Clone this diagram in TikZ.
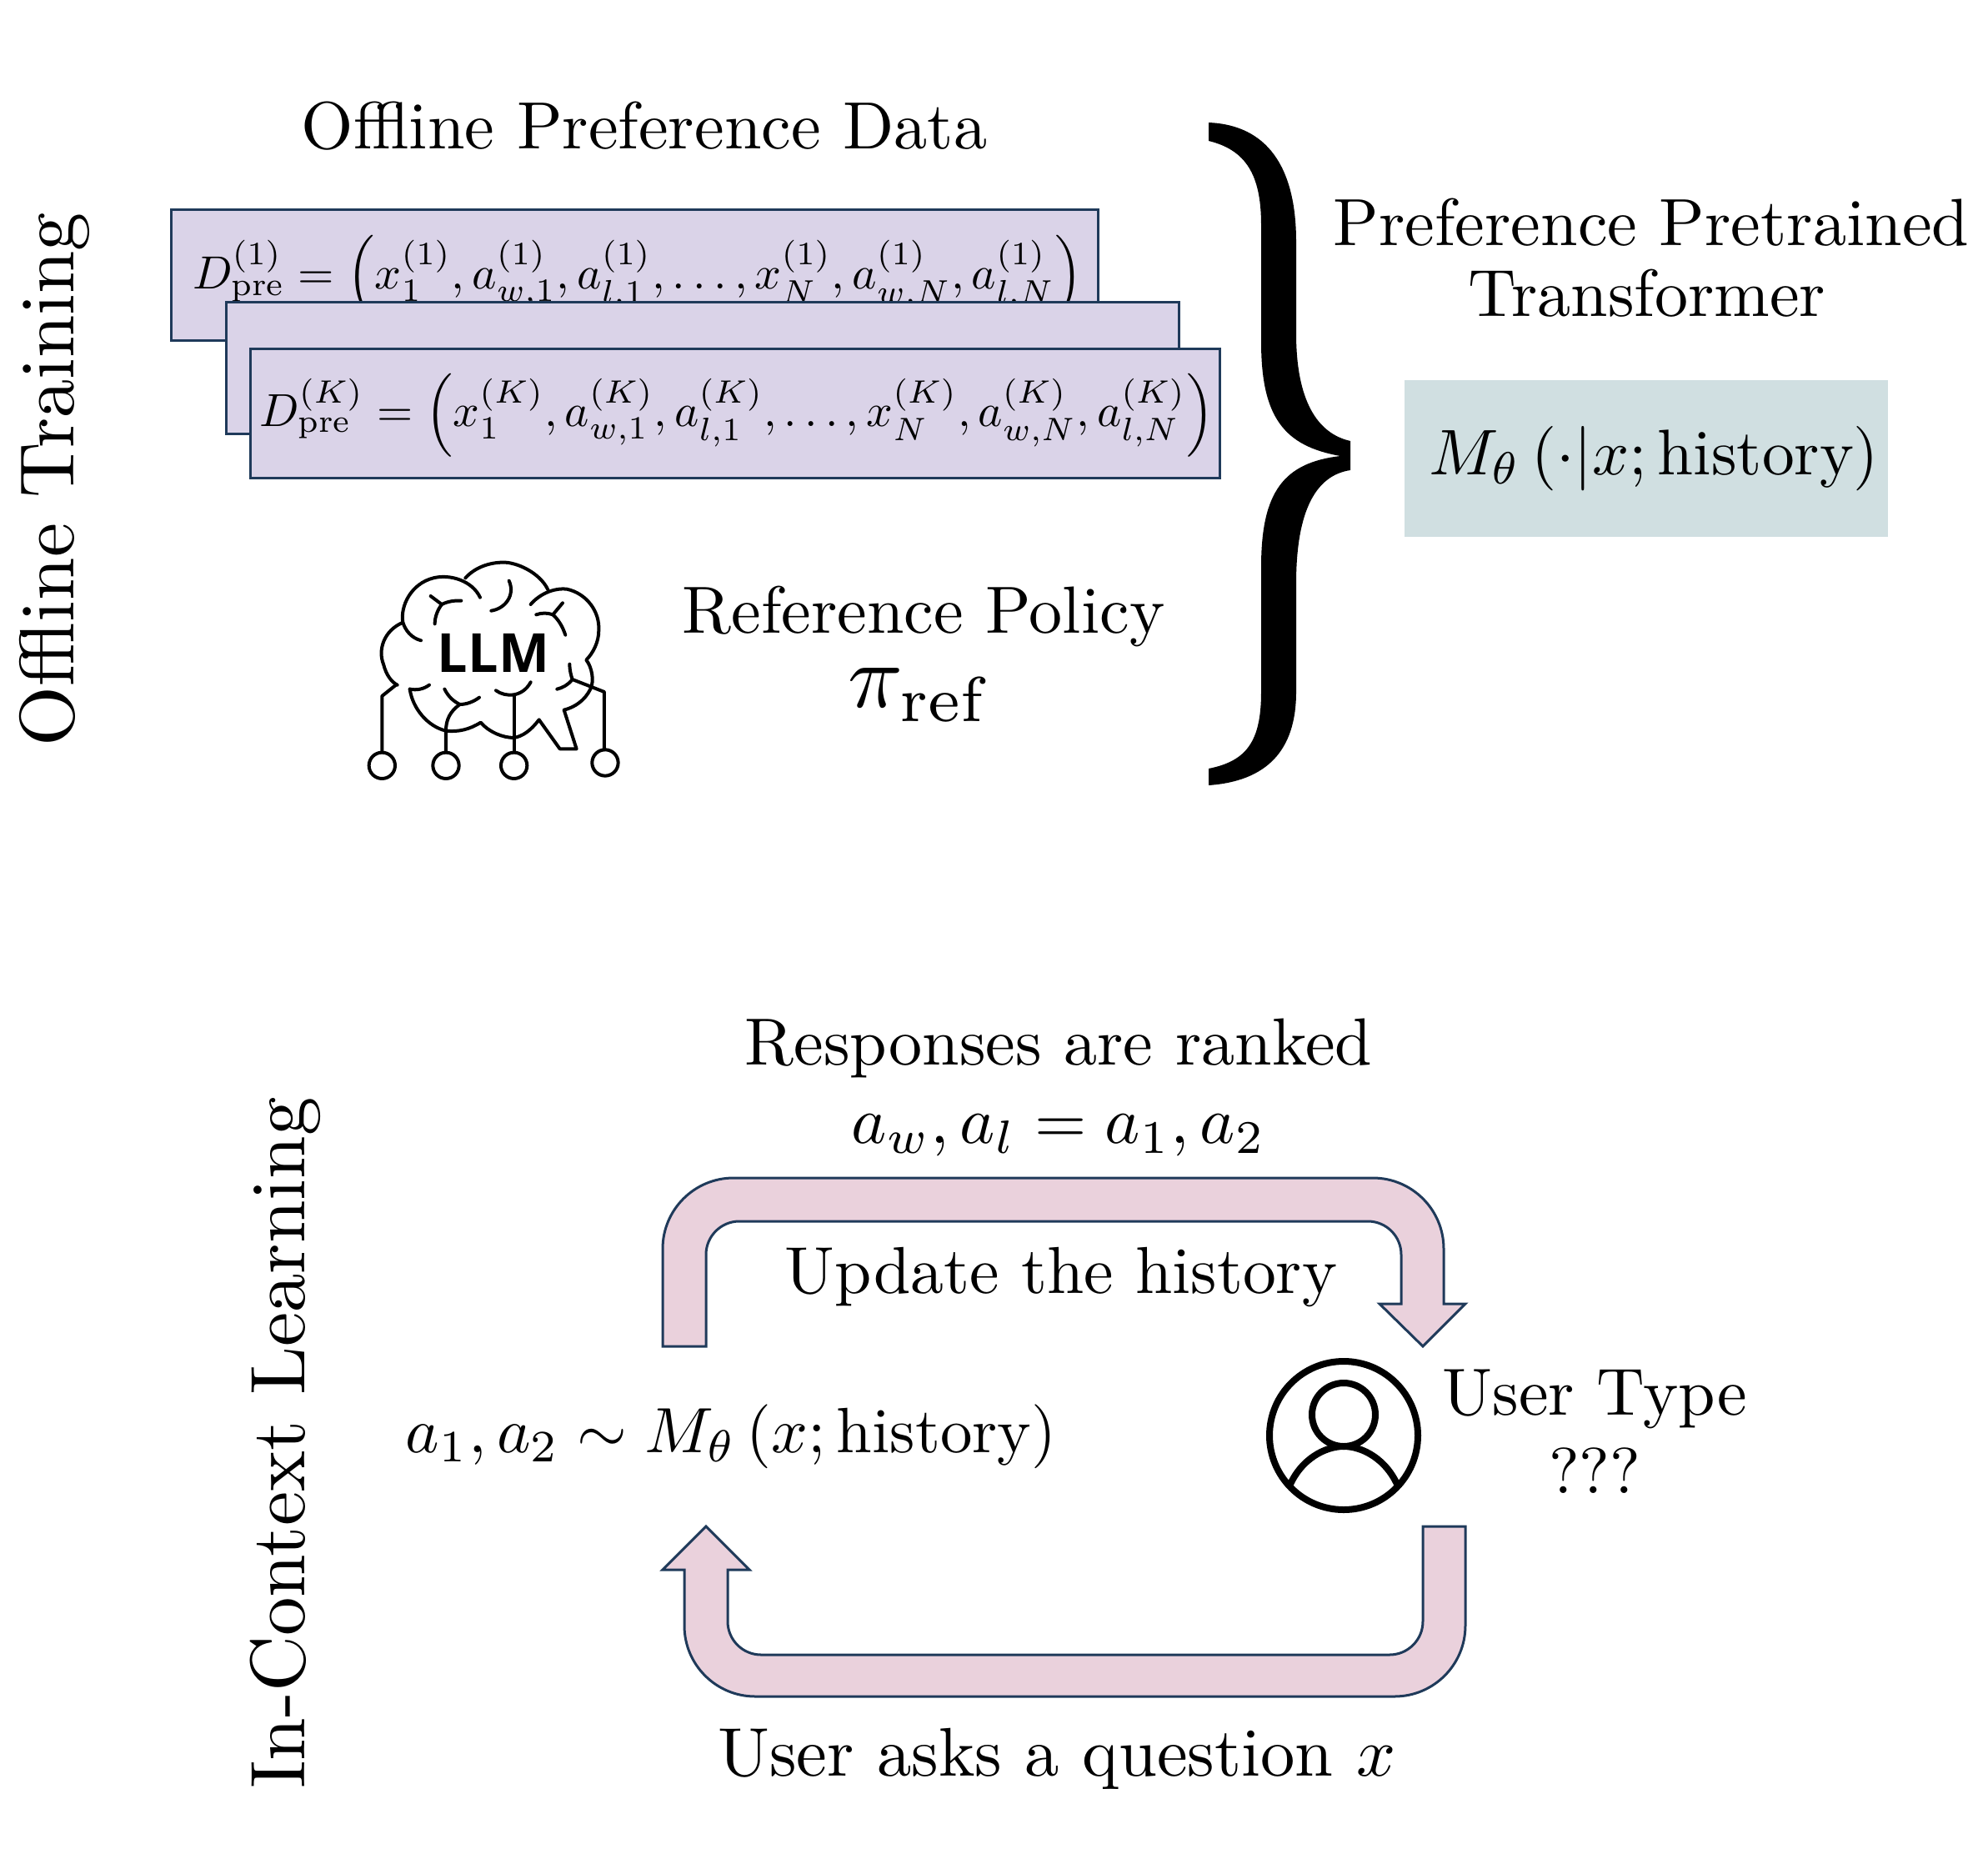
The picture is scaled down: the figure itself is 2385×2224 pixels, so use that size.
\documentclass[tikz,border=0pt]{standalone}
\usepackage{graphicx}
\usepackage{fontspec}
\newfontfamily\iconfont{Open Sans}
\definecolor{boxfill}{HTML}{DAD3E8}
\definecolor{boxedge}{HTML}{1F3A5A}
\definecolor{modelfill}{HTML}{D0DFE1}
\definecolor{arrowfill}{HTML}{EAD1DC}
\newcommand{\fit}[2]{\resizebox{#1pt}{!}{#2}}
\newcommand{\dataset}[1]{$D_{\mathrm{pre}}^{(#1)} = \left(x_1^{(#1)}, a_{w,1}^{(#1)}, a_{l,1}^{(#1)}, \ldots, x_N^{(#1)}, a_{w,N}^{(#1)}, a_{l,N}^{(#1)}\right)$}
\tikzset{
  label text/.style={inner sep=0pt, outer sep=0pt, anchor=center, text=black},
  data box/.style={fill=boxfill, draw=boxedge, line width=3pt},
  block arrow/.style={fill=arrowfill, draw=boxedge, line width=3pt, line join=miter},
  icon line/.style={draw=black, line width=4pt, line cap=round, line join=round},
  user line/.style={draw=black, line width=8pt}
}
\begin{document}
\begin{tikzpicture}[x=1pt,y=-1pt]
\useasboundingbox (0,0) rectangle (2385,2224);

% Stacked data sets
\draw[data box] (205,251) rectangle (1317,408);
\node[label text] (dOne) at (765,333) {\fit{1067}{\dataset{1}}};
\draw[data box] (271,362) rectangle (1414,520);
\draw[data box] (300,418) rectangle (1463,573);
\node[label text] (dK) at (884,498) {\fit{1144}{\dataset{K}}};

\node[label text] (offlineTitle) at (773,151) {\fit{822}{Offline Preference Data}};
\node[label text, rotate=90] (offlineSide) at (65,575) {\fit{640}{Offline Training}};
\node[label text, rotate=90] (contextSide) at (342,1731) {\fit{829}{In-Context Learning}};

% Large closing brace
\fill[black] (1450,147) .. controls (1520,150) and (1555,200) .. (1555,290)
  -- (1555,400) .. controls (1555,480) and (1580,520) .. (1620,529)
  -- (1620,564) .. controls (1580,570) and (1555,610) .. (1555,700)
  -- (1555,830) .. controls (1555,900) and (1520,937) .. (1450,942)
  -- (1450,922) .. controls (1495,913) and (1513,890) .. (1513,830)
  -- (1513,680) .. controls (1513,590) and (1540,555) .. (1608,547)
  .. controls (1540,535) and (1513,500) .. (1513,410)
  -- (1513,270) .. controls (1513,210) and (1495,180) .. (1450,169) -- cycle;

\node[label text] (pptOne) at (1981,267) {\fit{762}{Preference Pretrained}};
\node[label text] (pptTwo) at (1976,352) {\fit{428}{Transformer}};
\fill[modelfill] (1685,456) rectangle (2265,644);
\node[label text] (model) at (1984,550) {\fit{540}{$M_\theta\left(\cdot|x;\mathrm{history}\right)$}};

% Language model icon: brain outline, speech tail and circuit leads
\begin{scope}[shift={(420,650)}, x=0.3333pt, y=-0.3333pt]
  \draw[icon line] (190,290) .. controls (120,320) and (100,390) .. (120,440)
     .. controls (130,480) and (150,505) .. (170,515);
  \draw[icon line] (255,355) .. controls (220,345) and (200,320) .. (190,290)
     .. controls (180,230) and (220,150) .. (300,130)
     .. controls (360,115) and (440,140) .. (468,200);
  \draw[icon line] (415,130) .. controls (460,80) and (530,70) .. (570,75)
     .. controls (630,85) and (690,125) .. (712,172);
  \draw[icon line] (650,225) .. controls (680,190) and (730,165) .. (780,170)
     .. controls (850,185) and (900,250) .. (895,320)
     .. controls (895,360) and (875,400) .. (850,425)
     .. controls (870,450) and (880,500) .. (865,530)
     .. controls (845,570) and (810,595) .. (770,605)
     -- (815,745) -- (755,745) -- (680,640)
     .. controls (650,680) and (620,700) .. (590,705)
     .. controls (550,705) and (500,685) .. (470,650)
     .. controls (430,675) and (390,685) .. (345,680)
     .. controls (280,665) and (225,600) .. (215,530);
  \draw[icon line] (215,530) .. controls (240,535) and (265,530) .. (285,515);
  % branching strokes inside the brain
  \draw[icon line] (290,195) -- (330,225) .. controls (350,215) and (375,210) .. (400,212);
  \draw[icon line] (330,225) .. controls (315,245) and (305,270) .. (305,295);
  \draw[icon line] (572,140) .. controls (595,190) and (560,240) .. (508,248);
  \draw[icon line] (765,220) -- (730,262) .. controls (710,255) and (690,255) .. (670,262);
  \draw[icon line] (730,262) .. controls (750,280) and (765,305) .. (775,335);
  \draw[icon line] (790,440) .. controls (790,460) and (795,480) .. (800,495)
     .. controls (785,515) and (765,525) .. (745,530);
  \draw[icon line] (800,495) -- (915,540) -- (915,748);
  \draw[icon line] (340,530) .. controls (355,560) and (375,575) .. (395,585)
     .. controls (420,585) and (445,575) .. (465,560);
  \draw[icon line] (395,585) .. controls (360,610) and (345,640) .. (345,680) -- (345,757);
  \draw[icon line] (525,535) .. controls (560,560) and (620,560) .. (650,505);
  \draw[icon line] (590,555) -- (590,757);
  \draw[icon line] (165,515) -- (115,555) -- (115,757);
  % circuit terminals
  \draw[icon line] (115,805) circle[radius=47];
  \draw[icon line] (345,805) circle[radius=47];
  \draw[icon line] (590,805) circle[radius=47];
  \draw[icon line] (918,795) circle[radius=47];
\end{scope}
\node[label text] (llm) at (592,783) {\fit{134}{\iconfont\bfseries LLM}};

\node[label text] (refOne) at (1108,739) {\fit{578}{Reference Policy}};
\node[label text] (refTwo) at (1101,834) {\fit{167}{$\pi_{\mathrm{ref}}$}};

% Interaction loop
\node[label text] (ranked) at (1270,1257) {\fit{752}{Responses are ranked}};
\node[label text] (assign) at (1270,1362) {\fit{496}{$a_w, a_l = a_1, a_2$}};
\draw[block arrow] (795,1615) [rounded corners=85pt] -- (795,1413) -- (1732,1413)
  [sharp corners] -- (1732,1564) -- (1758,1564) -- (1707,1615) -- (1655,1564) -- (1681,1564)
  [rounded corners=40pt] -- (1681,1465) -- (847,1465) [sharp corners] -- (847,1615) -- cycle;
\node[label text] (update) at (1273,1532) {\fit{662}{Update the history}};
\node[label text] (sample) at (877,1723) {\fit{780}{$a_1, a_2 \sim M_\theta\left(x;\mathrm{history}\right)$}};

% User icon
\draw[user line] (1612,1722) circle[radius=89];
\draw[user line] (1612,1697) circle[radius=38];
\draw[user line] (1546,1785) .. controls (1560,1750) and (1590,1735) .. (1612,1735)
   .. controls (1634,1735) and (1664,1750) .. (1678,1785);

\node[label text] (userType) at (1913,1678) {\fit{365}{User Type}};
\node[label text] (unknown) at (1913,1764) {\fit{110}{???}};

\draw[block arrow] (1707,1831) -- (1758,1831) [rounded corners=85pt] -- (1758,2035) -- (821,2035)
  [sharp corners] -- (821,1883) -- (795,1883) -- (847,1831) -- (899,1883) -- (873,1883)
  [rounded corners=40pt] -- (873,1985) -- (1707,1985) [sharp corners] -- cycle;
\node[label text] (question) at (1268,2110) {\fit{813}{User asks a question $x$}};
\end{tikzpicture}
\end{document}
